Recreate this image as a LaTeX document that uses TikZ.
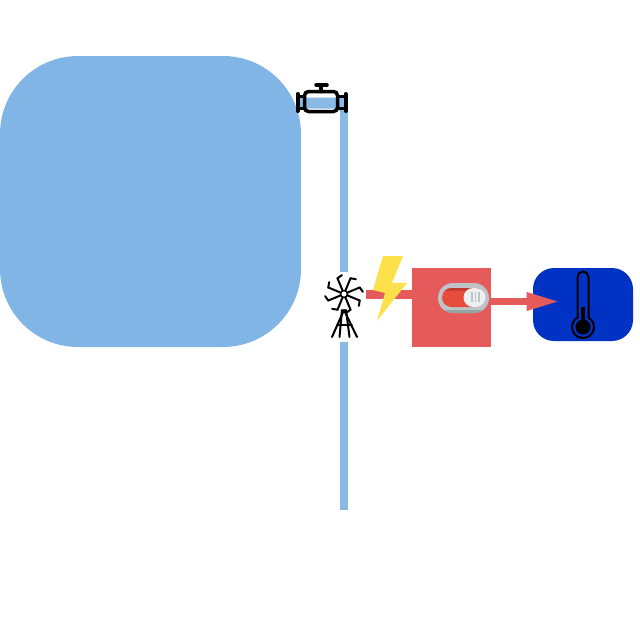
\documentclass[tikz,border=0pt]{standalone}
\usepackage{tikz}
\usepackage{color}
\usetikzlibrary{arrows.meta,backgrounds}

\definecolor{tankblue}{HTML}{80B5E6}
\definecolor{pipeblue}{HTML}{88BAE5}
\definecolor{boxred}{HTML}{E55B5B}
\definecolor{boltyellow}{HTML}{FEE14A}
\definecolor{sensorblue}{HTML}{0033C4}
\definecolor{togglegray}{HTML}{BDC3C7}
\definecolor{toggledark}{HTML}{95A5A6}
\definecolor{trackred}{HTML}{E74C3C}
\definecolor{trackdark}{HTML}{C0392B}
\definecolor{knobwhite}{HTML}{ECF0F1}

\tikzset{
    flatbox/.style={inner sep=0, outer sep=0},
    iconline/.style={black, line width=2pt, line cap=round},
    pipeline/.style={pipeblue, line width=8.5pt},
    feedline/.style={boxred, line width=9pt}
}

\begin{document}
\begin{tikzpicture}[x=1pt, y=-1pt]
    \useasboundingbox (0, 0) rectangle (640, 640);

    \node[flatbox, fill=tankblue, minimum width=301pt, minimum height=291pt, rounded corners=78pt] (tank) at (150.5, 201.5) {};
    \node[flatbox, fill=white, minimum width=38pt, minimum height=70pt] (windmill) at (344, 307) {};
    \node[flatbox, fill=boxred, minimum width=79.5pt, minimum height=79pt] (switchbox) at (451.5, 307.5) {};
    \node[flatbox, fill=sensorblue, minimum width=100pt, minimum height=73pt, rounded corners=21pt] (sensor) at (583, 304.5) {};

    % valve
    \node[flatbox, draw=black, fill=white, line width=3.5pt, minimum width=33pt, minimum height=20pt, rounded corners=4pt,
        path picture={\fill[pipeblue] (-20, -4) rectangle (20, 7);}] (valve) at (321, 101.5) {};
    \draw[iconline, line width=3.5pt] (valve.north) -- (321, 85);
    \draw[iconline, line width=3.5pt] (316, 85) -- (327, 85);
    \draw[iconline, line width=4pt] (297.5, 94) -- (297.5, 111);
    \draw[iconline, line width=4pt] (345.5, 94) -- (345.5, 111);
    \draw[black, line width=3pt] (297.5, 96.5) -- (valve.west |- 0, 96.5);
    \draw[black, line width=3pt] (297.5, 108.5) -- (valve.west |- 0, 108.5);
    \draw[black, line width=3pt] (345.5, 96.5) -- (valve.east |- 0, 96.5);
    \draw[black, line width=3pt] (345.5, 108.5) -- (valve.east |- 0, 108.5);

    % pipes
    \coordinate (elbow) at (344, 102);
    \coordinate (pipeend) at (344, 510);
    \begin{scope}[on background layer]
        \fill[pipeblue] (298, 97.5) rectangle (345, 108.5);
        \draw[pipeline] (elbow) -- (windmill) -- (pipeend);
    \end{scope}

    % windmill
    \coordinate (hub) at (344, 294);
    \foreach \a in {22.5, 67.5, ..., 337.5} {
        \draw[iconline] (hub) -- ([shift={(\a:17)}]hub) -- ([shift={(\a+16:19)}]hub);
    }
    \fill[white] (hub) circle (3);
    \draw[black, line width=1.5pt] (hub) circle (3.5);
    \draw[iconline] (344, 310) -- (332, 337);
    \draw[iconline] (344, 310) -- (357, 337);
    \draw[iconline] (342, 310) -- (339.5, 337);
    \draw[iconline] (346, 310) -- (349.5, 337);
    \draw[iconline, line width=1.5pt] (337, 325) -- (352, 325);

    % feed to the switch
    \draw[feedline] ([xshift=3pt]windmill.east |- hub) -- (switchbox.west |- hub);
    \fill[boltyellow] (383, 256) -- (403, 256) -- (392, 283) -- (407, 283) -- (377, 321) -- (385, 293) -- (373, 290) -- cycle;

    % toggle
    \node[flatbox, fill=togglegray, minimum width=51pt, minimum height=30pt, rounded corners=15pt,
        path picture={\fill[toggledark] (-30, 12) rectangle (30, 18);}] (toggle) at (463.5, 298) {};
    \node[flatbox, fill=trackred, minimum width=43pt, minimum height=19pt, rounded corners=9.5pt,
        path picture={\fill[trackdark] (-30, -12) rectangle (30, -7);}] (track) at (463.5, 297.5) {};
    \node[flatbox, fill=knobwhite, minimum width=22pt, minimum height=19pt, rounded corners=9.5pt] (knob) at (474.5, 297.5) {};
    \draw[togglegray, line width=1.5pt] (472, 292) -- (472, 302);
    \draw[togglegray, line width=1.5pt] (475.5, 292) -- (475.5, 302);
    \draw[togglegray, line width=1.5pt] (479, 292) -- (479, 302);

    % arrow to the sensor
    \coordinate (arrowtip) at (559.5, 301.5);
    \draw[boxred, line width=6.5pt, -{Triangle[length=33pt, width=17pt]}] (switchbox.east |- arrowtip) -- (arrowtip);

    % thermometer
    \draw[black, line width=2pt, fill=sensorblue] (577.5, 317.5) -- (577.5, 277) arc (180:360:5.5) -- (588.5, 317.5) arc (-60:240:11) -- cycle;
    \fill[black] (583, 327) circle (7.5);
    \fill[black] (581, 307) rectangle (585, 325);
\end{tikzpicture}
\end{document}
